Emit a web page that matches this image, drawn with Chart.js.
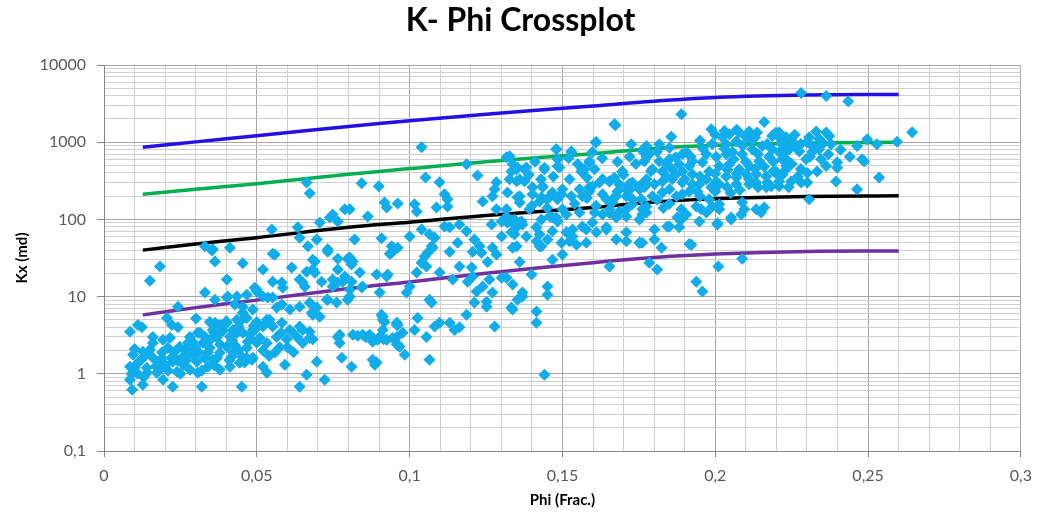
<!DOCTYPE html>
<html>
<head>
<meta charset="utf-8">
<script src="https://cdn.jsdelivr.net/npm/chart.js@4.4.1/dist/chart.umd.min.js"></script>
<style>
  html, body { margin: 0; padding: 0; background: #fff; }
  #wrap { width: 1041px; height: 518px; }
</style>
</head>
<body>
<div id="wrap"><canvas id="chart" width="1041" height="518"></canvas></div>
<script>
const chartTitle = 'K- Phi Crossplot';
const xTitle = 'Phi (Frac.)';
const yTitle = 'Kx (md)';

// axis ticks
const xMajorTicks = [0, 0.05, 0.1, 0.15, 0.2, 0.25, 0.3];
const xTickLabels = ['0', '0,05', '0,1', '0,15', '0,2', '0,25', '0,3'];
const yMajorTicks = [0.1, 1, 10, 100, 1000, 10000];
const yTickLabels = ['0,1', '1', '10', '100', '1000', '10000'];

// limit lines
const curvePhi = [0.0127, 0.03, 0.05, 0.08, 0.1, 0.125, 0.16, 0.18, 0.2, 0.23, 0.26];
const blueK   = [860, 1010, 1215, 1600, 1900, 2300, 2950, 3400, 3800, 4080, 4150];
const greenK  = [211, 245, 290, 384, 455, 560, 710, 830, 910, 975, 1000];
const blackK  = [40, 48, 58, 79, 92, 112, 143, 168, 185, 198, 202];
const purpleK = [5.8, 7.2, 9, 12.7, 15.5, 20, 27.5, 32, 35.5, 38.5, 39];

// core samples [phi, kx]
const samples = [
  [0.0085,3.5],[0.0124,4.0],[0.0111,4.3],[0.0206,5.3],[0.0222,4.3],[0.0242,4.0],[0.0242,7.4],[0.0301,5.2],
  [0.033,11.3],[0.0307,3.4],[0.0281,3.0],[0.0363,4.6],[0.0395,4.3],[0.0451,5.0],[0.0454,6.2],[0.0487,6.8],
  [0.0405,10],[0.0467,10.6],[0.05,11.6],[0.016,2.5],[0.0193,2.77],[0.015,2.05],[0.0127,1.93],[0.0095,1.77],
  [0.0085,1.23],[0.0101,1.2],[0.0085,0.84],[0.0092,0.62],[0.0127,0.72],[0.0111,1.39],[0.0127,1.61],[0.016,1.61],
  [0.0183,1.39],[0.0141,1.03],[0.0173,1.03],[0.0193,0.84],[0.0225,0.68],[0.0239,1.06],[0.0225,1.43],[0.0255,1.61],
  [0.0265,2.05],[0.0291,1.77],[0.0304,1.43],[0.0281,1.13],[0.0307,1.03],[0.032,0.68],[0.034,1.23],[0.0356,1.52],
  [0.0379,1.87],[0.0346,2.17],[0.0402,2.24],[0.0422,1.87],[0.0451,1.66],[0.0451,0.68],[0.0467,2.17],[0.0487,1.61],
  [0.05,2.53],[0.0412,1.23],[0.0379,1.13],[0.0324,2.53],[0.0275,2.53],[0.0248,2.24],[0.0209,2.17],[0.0216,2.93],
  [0.033,3.02],[0.0369,2.93],[0.0412,3.02],[0.0435,3.41],[0.0477,3.21],
  [0.011,1.0],[0.012,1.5],[0.014,1.8],[0.017,1.25],[0.019,1.9],[0.021,1.1],[0.023,1.9],[0.026,1.3],[0.027,1.5],
  [0.029,2.6],[0.031,1.9],[0.033,1.6],[0.035,2.8],[0.036,1.3],[0.038,2.4],[0.039,3.6],[0.042,2.7],[0.044,2.0],
  [0.046,1.4],[0.048,2.8],[0.016,3.0],[0.014,1.2],[0.019,1.6],[0.010,2.1],[0.009,1.0],[0.013,0.9],[0.018,1.1],
  [0.024,1.5],[0.028,1.9],[0.03,2.2],[0.034,1.9],[0.037,1.6],[0.041,1.5],[0.043,2.3],[0.047,2.6],[0.02,1.3],
  [0.022,1.6],[0.025,1.0],[0.032,1.1],[0.036,3.4],[0.04,4.8],[0.044,4.1],[0.049,4.2],[0.052,2.0],[0.054,1.7],
  [0.056,1.9],[0.058,3.4],[0.06,2.2],[0.062,1.9],
  [0.015,16],[0.0183,24.5],[0.0363,28.5],[0.0353,39.6],[0.0402,16.6],[0.0454,27],[0.0552,36],[0.052,22.4],
  [0.0614,23.8],[0.0683,30],[0.0732,38],[0.0797,31],[0.0814,28.5],[0.0935,36],[0.0552,15.6],[0.0582,15.2],
  [0.064,16.6],[0.065,15.2],[0.0663,21],[0.069,20.4],[0.0712,15.6],[0.0748,16.6],[0.0765,15.2],[0.0788,18.2],
  [0.081,15.6],[0.0843,13.1],[0.0892,19.3],[0.0925,18.2],[0.0363,9.1],[0.0402,9.7],[0.0435,10],[0.05,12.3],
  [0.0428,7.9],[0.0454,7.4],[0.052,10],[0.0552,9.7],[0.0585,13],[0.0565,7.2],[0.0582,7.9],[0.064,7.4],
  [0.0673,8.3],[0.0696,7.2],[0.0729,9.1],[0.0761,8.4],[0.0797,9.1],[0.0683,5.8],[0.0706,5.5],[0.0912,5.5],
  [0.0918,4.7],[0.0958,4.6],[0.0346,4.7],[0.0379,4.3],[0.0402,4.6],[0.0435,5.0],[0.0467,5.3],[0.05,4.7],
  [0.0533,5.0],[0.0552,4.1],[0.0582,4.6],[0.0608,3.7],[0.064,4.1],[0.0673,3.5],[0.0765,3.0],[0.0814,3.2],
  [0.0846,3.2],[0.0869,3.2],[0.0902,3.0],[0.0944,2.9],[0.0958,2.4],[0.0771,2.5],[0.0879,2.6],[0.0314,3.4],
  [0.0356,3.7],[0.0373,3.2],[0.0422,3.7],[0.0454,3.4],[0.0487,3.7],[0.051,2.9],[0.0533,2.5],[0.0565,3.0],
  [0.0575,2.2],[0.0598,2.8],[0.0631,3.0],[0.065,2.5],[0.0683,2.8],[0.0418,1.66],[0.0444,1.39],[0.0467,1.61],
  [0.0484,1.52],[0.052,1.23],[0.0533,1.03],[0.0592,1.31],[0.0696,1.43],[0.0663,0.97],[0.0722,0.84],[0.0778,1.61],
  [0.081,1.23],[0.0879,1.52],[0.0886,1.31],[0.064,0.68],
  [0.0559,35],[0.069,28.5],[0.0683,22.4],[0.0804,32],[0.081,26],[0.0765,22.4],[0.0837,20.5],[0.0928,19.3],
  [0.0941,37],[0.0657,13.4],[0.0748,13.5],[0.0781,15.6],[0.0804,12.3],[0.0846,13.5],[0.0902,11.3],[0.0493,13],
  [0.0536,9.7],[0.0608,6.8],[0.068,6.2],[0.0732,9.1],[0.0804,10],[0.0958,4.3],[0.0493,3.7],[0.052,4.1],
  [0.0542,5.0],[0.0618,3.4],[0.065,3.7],[0.0673,2.9],[0.0771,3.2],[0.083,3.1],[0.0856,3.0],[0.0876,3.0],
  [0.0899,2.9],[0.0915,2.8],[0.0961,2.4],[0.0892,1.4],
  [0.0663,300],[0.0673,218],[0.0549,74],[0.0634,79],[0.064,58],[0.0667,45],[0.0696,55],[0.0706,91],
  [0.0739,106],[0.0748,116],[0.0765,94],[0.0788,135],[0.0732,41],[0.0765,31],[0.033,45],[0.0356,41],[0.0412,43],
  [0.1039,861],[0.0843,294],[0.0899,268],[0.1052,350],[0.1098,303],[0.1114,211],[0.1124,182],[0.1124,147],
  [0.1186,518],[0.1222,370],[0.0918,165],[0.0925,143],[0.0961,161],[0.1016,157],[0.1088,143],[0.1023,127],
  [0.0863,109],[0.082,55],[0.0804,135],[0.0908,57],[0.0941,45],[0.0961,43],[0.1,60],[0.1039,74],
  [0.1065,64],[0.1072,45],[0.1059,37],[0.1082,58],[0.1114,81],[0.1131,79],[0.1131,38],[0.1157,50],
  [0.1206,38],[0.1235,37],[0.1255,28],[0.1271,43],[0.1284,35],[0.1301,60],[0.1333,68],[0.1337,43],
  [0.136,28],[0.1317,17.6],[0.1337,14.3],[0.1369,11.3],[0.1399,19.3],[0.1451,13.5],[0.1451,10.6],[0.1415,6.4],
  [0.1415,4.6],[0.1441,0.97],[0.1337,6.8],[0.1278,4.1],[0.1252,8.6],[0.1252,7.4],[0.1212,8.4],[0.1186,5.8],
  [0.1131,4.6],[0.1163,4.0],[0.1147,3.7],[0.1098,4.6],[0.1082,4.1],[0.1055,3.0],[0.1065,1.52],[0.1026,5.3],
  [0.1016,3.7],[0.0977,3.4],[0.0984,1.77],[0.0967,2.24],[0.0961,4.3],[0.0958,3.0],[0.0925,2.77],[0.0912,3.7],
  [0.0895,2.77],[0.0912,5.0],[0.0908,5.8],[0.099,11.3],[0.1,13.5],[0.1065,9.1],[0.1072,8.4],[0.1023,20.5],
  [0.1039,27.5],[0.1049,33],[0.1055,24.5],[0.1075,43],[0.1098,20.5],[0.1163,24.5],[0.1141,16.6],[0.1203,23.8],
  [0.119,15.6],[0.1206,18.2],[0.1261,16.6],[0.1239,13.5],[0.1219,11.6],[0.1271,11.3],[0.1301,17.6],[0.1333,7.2],
  [0.1353,9.1],[0.1369,10],[0.1186,70],[0.1163,86],[0.1212,55],[0.1229,45],[0.1268,86],[0.1317,109],
  [0.135,79],[0.1369,86],[0.1392,135],[0.1425,170],[0.1343,100],[0.1366,94],[0.1301,94],[0.132,91],
  [0.1239,170],[0.1271,199],[0.1284,135],[0.132,223],[0.136,199],[0.1376,312],[0.1402,260],[0.1435,268],
  [0.1337,518],[0.135,446],[0.1382,470],[0.1317,640],[0.1327,331],[0.135,312],[0.1284,303],[0.1278,245],
  [0.1441,446],[0.148,811],[0.1484,488],[0.1529,740],[0.15,245],[0.1458,194],[0.1431,194],[0.1523,331],
  [0.1556,245],[0.1588,260],[0.1458,109],[0.148,106],[0.1513,116],[0.1484,182],[0.15,135],[0.1415,79],
  [0.1425,64],[0.1431,45],[0.1451,55],[0.1467,30],[0.15,35],[0.1533,74],[0.1565,81],[0.1598,91],
  [0.1644,79],[0.1578,50],[0.1546,47],[0.1611,1000],[0.1588,565],[0.1605,446],[0.1565,446],[0.167,1713],
  [0.1654,312],[0.1631,331],[0.1696,418],[0.1676,199],[0.1709,245],[0.1654,120],[0.1631,116],[0.1676,106],
  [0.1663,165],[0.1709,135],[0.1729,157],[0.1719,290],[0.1752,268],[0.1761,290],[0.1725,940],[0.1752,100],
  [0.1761,116],[0.1709,68],[0.1654,24.5],[0.1752,50],
  [0.1889,2300],[0.1987,1475],[0.1856,1180],[0.216,1830],[0.1775,890],[0.1817,942],[0.1905,745],[0.1892,700],
  [0.2046,1270],[0.2078,1340],[0.2111,1380],[0.2137,1340],[0.2069,1030],[0.2101,1160],[0.2199,1340],[0.2209,1160],
  [0.2186,1200],[0.2219,995],[0.2023,1160],[0.2036,940],[0.1971,700],[0.2003,650],[0.2036,700],[0.1925,565],
  [0.1915,490],[0.1882,518],[0.185,600],[0.1817,565],[0.1784,700],[0.1768,565],[0.1794,446],[0.1827,418],
  [0.1859,446],[0.1892,418],[0.1925,384],[0.1958,550],[0.198,418],[0.2013,490],[0.2046,518],[0.2078,446],
  [0.2111,490],[0.2144,565],[0.2176,650],[0.2209,745],[0.2232,600],[0.2056,745],[0.2088,700],[0.2121,811],
  [0.2154,890],[0.2186,811],[0.2232,811],[0.1775,331],[0.1801,285],[0.1827,310],[0.1859,331],[0.1892,300],
  [0.1925,285],[0.1971,331],[0.2003,310],[0.2036,360],[0.2069,350],[0.2101,384],[0.2134,384],[0.2167,360],
  [0.2199,418],[0.2232,446],[0.1948,285],[0.1941,230],[0.1987,260],[0.2013,285],[0.2039,260],[0.2069,285],
  [0.2111,285],[0.2134,300],[0.2183,268],[0.2209,310],[0.1752,245],[0.1768,260],[0.1758,182],[0.1794,199],
  [0.1827,223],[0.185,245],[0.1873,199],[0.1892,211],[0.1915,230],[0.1775,147],[0.1761,135],[0.1889,135],
  [0.1905,116],[0.1876,106],[0.1938,147],[0.1954,135],[0.1971,123],[0.199,147],[0.2013,135],[0.2088,165],
  [0.2095,135],[0.2085,116],[0.2134,135],[0.216,143],[0.215,123],[0.2167,260],[0.2013,157],[0.198,182],
  [0.1889,100],[0.1882,79],[0.185,81],[0.1801,74],[0.2007,86],[0.2052,106],[0.1761,50],[0.1824,43],
  [0.1922,47],[0.1801,55],
  [0.2281,4340],[0.2363,3960],[0.2435,3400],[0.2644,1350],[0.2209,1340],[0.2232,1160],[0.2219,942],[0.2242,811],
  [0.2258,890],[0.2275,760],[0.233,1380],[0.2363,1340],[0.2373,1200],[0.2307,1160],[0.2317,890],[0.234,811],
  [0.235,942],[0.2379,942],[0.2497,1094],[0.2529,942],[0.2595,1010],[0.2464,890],[0.2297,601],[0.2317,745],
  [0.2346,601],[0.2363,490],[0.2333,418],[0.2399,550],[0.2399,465],[0.2487,565],[0.2219,601],[0.2232,490],
  [0.2209,360],[0.2301,400],[0.2248,310],[0.2281,300],[0.2301,300],[0.2395,310],[0.2536,350],[0.2464,245],
  [0.2307,182],[0.2209,268],[0.248,601],
  [0.1673,1660],[0.1608,1000],[0.148,811],[0.1529,760],[0.1327,660],[0.1588,550],[0.1598,745],[0.1484,601],
  [0.149,470],[0.1441,465],[0.1333,418],[0.1353,470],[0.1376,446],[0.136,331],[0.1572,446],[0.1562,418],
  [0.1696,418],[0.1775,650],[0.1435,260],[0.1402,211],[0.1598,268],[0.1621,300],[0.1654,310],[0.167,350],
  [0.1686,285],[0.1729,300],[0.1752,260],[0.1775,285],[0.1467,223],[0.1497,211],[0.1529,199],[0.1565,199],
  [0.1588,230],[0.1353,194],[0.136,165],[0.1317,135],[0.1631,211],[0.1644,182],[0.167,194],[0.1709,199],
  [0.1729,182],[0.1448,182],[0.1556,123],[0.1605,123],[0.1654,135],[0.1686,127],[0.1709,109],[0.1431,100],
  [0.1467,106],[0.1484,94],[0.1333,94],[0.136,91],[0.1775,123],[0.1343,64],[0.1382,60],[0.1415,52],
  [0.1425,45],[0.1467,70],[0.1513,68],[0.1533,60],[0.1497,50],[0.1523,52],[0.1578,74],[0.1611,68],
  [0.1644,74],[0.1676,55],[0.1709,52],[0.1752,50],[0.135,45],
  [0.1915,48],[0.1784,27.5],[0.181,22.4],[0.1938,15.6],[0.1958,11.6],[0.201,24.5],[0.2088,31],[0.2007,89],
  [0.1948,94],[0.2052,100],[0.1843,81],
  [0.192,650],[0.196,820],[0.199,950],[0.203,820],[0.206,600],[0.209,900],[0.212,1050],[0.214,700],
  [0.217,950],[0.219,560],[0.222,700],[0.225,1050],[0.228,950],[0.231,650],[0.234,1100],[0.2,390],
  [0.204,440],[0.207,390],[0.21,560],[0.213,450],[0.216,480],[0.219,420],[0.222,380],[0.225,520],
  [0.228,450],[0.211,330],[0.214,260],[0.217,300],[0.205,220],[0.208,240],[0.224,260],[0.227,360],
  [0.195,360],[0.19,330],[0.187,380],[0.184,520],[0.187,640],[0.181,760],[0.184,360],[0.179,420],
  [0.2,1250],[0.203,1400],[0.207,1450],[0.213,1150],[0.219,1250],[0.195,1050],[0.185,850],[0.176,780],
  [0.172,650],[0.174,520],[0.17,380],[0.168,560],[0.163,620],[0.158,350],[0.155,520],[0.152,620],
  [0.147,360],[0.143,330],[0.139,380],[0.141,560],[0.154,160],[0.161,150],[0.158,190],[0.168,230],
  [0.172,240],[0.181,180],[0.185,160],[0.195,200],[0.2,230],[0.183,140],[0.14,150],[0.145,140],
  [0.237,700],[0.241,800],[0.244,650],[0.226,1250],[0.23,1000],[0.235,1000]
];

const gridMinor = '#d0d0d0';
const gridMajor = '#a6a6a6';
const axisGray = '#868686';
const labelGray = '#595959';

const yGridValues = [];
for (let d = 0; d < yMajorTicks.length; d++) {
  const base = yMajorTicks[d];
  yGridValues.push(base);
  if (d < yMajorTicks.length - 1) {
    for (let m = 2; m <= 9; m++) yGridValues.push(+(base * m).toPrecision(6));
  }
}
const xGridValues = [];
for (let i = 0; i <= 30; i++) xGridValues.push(+(i / 100).toFixed(2));

const isXMajor = v => Math.abs(v * 20 - Math.round(v * 20)) < 1e-6;
const isYMajor = v => Math.abs(Math.log10(v) - Math.round(Math.log10(v))) < 1e-6;

const toXY = ks => curvePhi.map((p, i) => ({ x: p, y: ks[i] }));
const curve = (label, color, ks) => ({
  label, data: toXY(ks), showLine: true, borderColor: color, backgroundColor: color,
  borderWidth: 3.5, pointRadius: 0, tension: 0.4, order: 2
});

Chart.defaults.font.family = 'Lato, "Open Sans", sans-serif';

new Chart(document.getElementById('chart'), {
  type: 'scatter',
  data: {
    datasets: [
      {
        label: 'Kx', data: samples.map(s => ({ x: s[0], y: s[1] })),
        pointStyle: 'rectRot', pointRadius: 6, pointBorderWidth: 0,
        backgroundColor: '#11acea', borderColor: '#11acea', order: 1
      },
      curve('Blue', '#2410e4', blueK),
      curve('Green', '#00b050', greenK),
      curve('Black', '#000000', blackK),
      curve('Purple', '#7030a0', purpleK)
    ]
  },
  options: {
    responsive: false,
    animation: false,
    devicePixelRatio: 1,
    layout: { padding: 0 },
    plugins: {
      legend: { display: false },
      tooltip: { enabled: false },
      title: {
        display: true, text: chartTitle, color: '#000',
        font: { size: 32, weight: 'bold' }, padding: { top: 1, bottom: 25.6 }
      }
    },
    scales: {
      x: {
        type: 'linear', min: 0, max: 0.3,
        afterBuildTicks: axis => { axis.ticks = xGridValues.map(v => ({ value: v })); },
        afterFit: s => { s.height = 67; },
        ticks: {
          autoSkip: false, maxRotation: 0, padding: 9, color: labelGray, font: { size: 16 },
          callback: v => { const i = xMajorTicks.findIndex(m => Math.abs(m - v) < 1e-6); return i >= 0 ? xTickLabels[i] : ''; }
        },
        grid: {
          color: c => isXMajor(c.tick.value) ? gridMajor : gridMinor,
          tickColor: c => isXMajor(c.tick.value) ? axisGray : 'rgba(0,0,0,0)',
          tickLength: 6, lineWidth: 1
        },
        border: { color: axisGray, width: 1 },
        title: { display: true, text: xTitle, color: '#000', font: { size: 15, weight: 'bold' }, padding: { top: 0, bottom: 9 } }
      },
      y: {
        type: 'logarithmic', min: 0.1, max: 10000,
        afterBuildTicks: axis => { axis.ticks = yGridValues.map(v => ({ value: v })); },
        afterFit: s => { s.width = 104; },
        ticks: {
          autoSkip: false, padding: 11, color: labelGray, font: { size: 16 },
          callback: v => { const i = yMajorTicks.findIndex(m => Math.abs(m - v) / m < 1e-6); return i >= 0 ? yTickLabels[i] : ''; }
        },
        grid: {
          color: c => isYMajor(c.tick.value) ? gridMajor : gridMinor,
          tickColor: c => isYMajor(c.tick.value) ? axisGray : 'rgba(0,0,0,0)',
          tickLength: 7, lineWidth: 1
        },
        border: { color: axisGray, width: 1 },
        title: { display: true, text: yTitle, color: '#000', font: { size: 15, weight: 'bold' }, padding: { top: 13, bottom: 0 } }
      },
      // empty strip on the right so the title centres on the whole canvas
      spacer: {
        type: 'linear', position: 'right', display: true,
        afterFit: s => { s.width = 19; },
        ticks: { display: false },
        grid: { display: false, drawTicks: false },
        border: { display: false }
      }
    }
  }
});
</script>
</body>
</html>
